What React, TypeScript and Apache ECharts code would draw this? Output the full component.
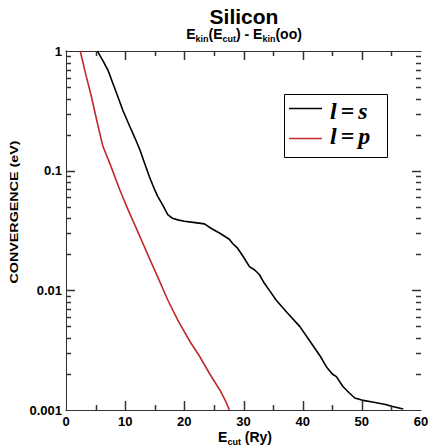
import React, { useEffect, useRef } from "react";
import * as echarts from "echarts";

// Kinetic-energy convergence of silicon pseudo-wavefunctions vs. cutoff energy
const sChannel: [number, number][] = [
  [5.3, 1.0], [5.5, 0.96], [6.3, 0.82], [7.1, 0.69], [7.9, 0.54], [8.8, 0.41],
  [9.6, 0.32], [10.8, 0.233], [11.6, 0.19], [12.5, 0.149], [13.3, 0.115],
  [14.1, 0.089], [15.0, 0.069], [15.5, 0.061], [16.4, 0.051], [17.2, 0.043],
  [18.0, 0.0400], [18.9, 0.0388], [20.0, 0.0378], [21.5, 0.0370], [23.4, 0.0359],
  [24.5, 0.0330], [26.0, 0.0300], [27.6, 0.0267], [28.2, 0.0245], [29.0, 0.0225],
  [30.0, 0.0190], [31.0, 0.0158], [31.9, 0.0148], [32.7, 0.0135], [33.5, 0.0115],
  [34.5, 0.0098], [35.5, 0.0083], [37.5, 0.0064], [39.5, 0.0050], [41.5, 0.0036],
  [43.0, 0.0028], [44.0, 0.0023], [45.0, 0.0020], [45.7, 0.0019], [46.8, 0.00157],
  [47.8, 0.00140], [48.8, 0.00126], [50.0, 0.00121], [52.0, 0.00116],
  [54.0, 0.00111], [55.2, 0.00107], [57.0, 0.00102],
];

const pChannel: [number, number][] = [
  [2.4, 1.0], [3.3, 0.65], [4.3, 0.415], [5.3, 0.25], [6.25, 0.159], [7.4, 0.115],
  [9.1, 0.069], [10.5, 0.047], [12.0, 0.032], [14.1, 0.0185], [15.7, 0.0123],
  [17.2, 0.0083], [19.0, 0.0055], [21.0, 0.0037], [22.6, 0.0028], [24.3, 0.0020],
  [26.0, 0.00147], [27.0, 0.00118], [27.6, 0.00100],
];

const yTickLabels: Record<string, string> = {
  "1": "1",
  "0.1": "0.1",
  "0.01": "0.01",
  "0.001": "0.001",
};

const X_MIN = 0;
const X_MAX = 60;
const Y_MIN = 0.001;
const Y_MAX = 1;

// Tick positions drawn on all four frame edges
const xMajorTicks = [10, 20, 30, 40, 50];
const xMinorTicks = [5, 15, 25, 35, 45, 55];
const yMajorTicks = [0.01, 0.1];
const yMinorTicks: number[] = [];
for (const decade of [0.001, 0.01, 0.1]) {
  for (let k = 2; k <= 9; k++) yMinorTicks.push(+(decade * k).toPrecision(3));
}

const MAJOR_LEN = 9;
const MINOR_LEN = 5;

const SANS = "'Liberation Sans', Arial, Helvetica, sans-serif";
const SERIF = "'Liberation Serif', 'Times New Roman', serif";
const AXIS_COLOR = "#333";
const TICK_COLOR = "#333";
const RED = "#c22a2a";

const crisp = (v: number) => Math.round(v) + 0.5;

export default function App() {
  const ref = useRef<HTMLDivElement>(null);

  useEffect(() => {
    if (!ref.current) return;
    const chart = echarts.init(ref.current, undefined, { renderer: "svg" });

    const xCommon = {
      type: "value" as const,
      min: X_MIN,
      max: X_MAX,
      interval: 10,
      splitLine: { show: false },
      axisLine: { show: true, lineStyle: { color: AXIS_COLOR, width: 1 } },
      axisTick: { show: false },
    };
    const yCommon = {
      type: "log" as const,
      logBase: 10,
      min: Y_MIN,
      max: Y_MAX,
      splitLine: { show: false },
      axisLine: { show: true, lineStyle: { color: AXIS_COLOR, width: 1 } },
      axisTick: { show: false },
    };

    chart.setOption({
      animation: false,
      backgroundColor: "#fff",
      grid: { left: 66, top: 51, right: 11, bottom: 36, containLabel: false },
      xAxis: [
        {
          ...xCommon,
          position: "bottom",
          axisLabel: {
            show: true,
            color: "#000",
            fontFamily: SANS,
            fontWeight: "bold",
            fontSize: 13,
            margin: 5,
          },
        },
        { ...xCommon, position: "top", axisLabel: { show: false } },
      ],
      yAxis: [
        {
          ...yCommon,
          position: "left",
          axisLabel: {
            show: true,
            color: "#000",
            fontFamily: SANS,
            fontWeight: "bold",
            fontSize: 13,
            margin: 4,
            formatter: (v: number) => yTickLabels[String(v)] ?? String(v),
          },
        },
        { ...yCommon, position: "right", axisLabel: { show: false } },
      ],
      series: [
        {
          type: "line",
          name: "l = s",
          data: sChannel,
          showSymbol: false,
          lineStyle: { color: "#000", width: 1.6 },
          clip: true,
        },
        {
          type: "line",
          name: "l = p",
          data: pChannel,
          showSymbol: false,
          lineStyle: { color: RED, width: 1.6 },
          clip: true,
        },
      ],
    });

    // frame ticks, placed through the grid's own scales
    const toPx = (x: number, y: number) =>
      chart.convertToPixel({ xAxisIndex: 0, yAxisIndex: 0 }, [x, y]) as number[];
    const tickStyle = { stroke: TICK_COLOR, lineWidth: 1.5 };
    const ticks: any[] = [];
    const addX = (v: number, len: number) => {
      const pb = toPx(v, Y_MIN);
      const pt = toPx(v, Y_MAX);
      const x = crisp(pb[0]);
      ticks.push({ type: "line", z: 50, silent: true, shape: { x1: x, y1: pb[1], x2: x, y2: pb[1] - len }, style: tickStyle });
      ticks.push({ type: "line", z: 50, silent: true, shape: { x1: x, y1: pt[1], x2: x, y2: pt[1] + len }, style: tickStyle });
    };
    const addY = (v: number, len: number) => {
      const pl = toPx(X_MIN, v);
      const pr = toPx(X_MAX, v);
      const y = crisp(pl[1]);
      ticks.push({ type: "line", z: 50, silent: true, shape: { x1: pl[0], y1: y, x2: pl[0] + len, y2: y }, style: tickStyle });
      ticks.push({ type: "line", z: 50, silent: true, shape: { x1: pr[0], y1: y, x2: pr[0] - len, y2: y }, style: tickStyle });
    };
    xMajorTicks.forEach((v) => addX(v, MAJOR_LEN));
    xMinorTicks.forEach((v) => addX(v, MINOR_LEN));
    yMajorTicks.forEach((v) => addY(v, MAJOR_LEN));
    yMinorTicks.forEach((v) => addY(v, MINOR_LEN));

    const legendRich = {
      i: { font: `italic bold 24px ${SERIF}`, fill: "#000" },
      e: { font: `bold 24px ${SERIF}`, fill: "#000", padding: [0, 4, 0, 4] },
    };

    chart.setOption({
      graphic: [
        ...ticks,
        {
          type: "text",
          x: 244,
          y: 16,
          style: {
            text: "Silicon",
            font: `bold 21px ${SANS}`,
            fill: "#000",
            align: "center",
            verticalAlign: "middle",
          },
        },
        {
          type: "text",
          x: 244,
          y: 34,
          style: {
            text: "{b|E}{s|kin}{b|(E}{s|cut}{b|) - E}{s|kin}{b|(oo)}",
            align: "center",
            verticalAlign: "middle",
            rich: {
              b: { font: `bold 14px ${SANS}`, fill: "#000", lineHeight: 18 },
              s: { font: `bold 9px ${SANS}`, fill: "#000", lineHeight: 11, verticalAlign: "bottom" },
            },
          },
        },
        {
          type: "text",
          x: 245,
          y: 437,
          style: {
            text: "{b|E}{s|cut}{b| (Ry)}",
            align: "center",
            verticalAlign: "middle",
            rich: {
              b: { font: `bold 14px ${SANS}`, fill: "#000", lineHeight: 18 },
              s: { font: `bold 9px ${SANS}`, fill: "#000", lineHeight: 11, verticalAlign: "bottom" },
            },
          },
        },
        {
          type: "text",
          x: 14,
          y: 212,
          rotation: Math.PI / 2,
          scaleX: 1.3,
          style: {
            text: "CONVERGENCE (eV)",
            font: `bold 11px ${SANS}`,
            fill: "#000",
            align: "center",
            verticalAlign: "middle",
          },
        },
        // legend box
        {
          type: "rect",
          shape: { x: 284.5, y: 94.5, width: 103, height: 63 },
          style: { fill: "#fff", stroke: "#000", lineWidth: 1 },
          z: 60,
        },
        {
          type: "line",
          shape: { x1: 289, y1: 108.5, x2: 322, y2: 108.5 },
          style: { stroke: "#000", lineWidth: 1.4 },
          z: 61,
        },
        {
          type: "line",
          shape: { x1: 289, y1: 138.5, x2: 322, y2: 138.5 },
          style: { stroke: RED, lineWidth: 1.4 },
          z: 61,
        },
        {
          type: "text",
          x: 330,
          y: 111,
          z: 61,
          style: {
            text: "{i|l}{e|=}{i|s}",
            align: "left",
            verticalAlign: "middle",
            rich: legendRich,
          },
        },
        {
          type: "text",
          x: 330,
          y: 136,
          z: 61,
          style: {
            text: "{i|l}{e|=}{i|p}",
            align: "left",
            verticalAlign: "middle",
            rich: legendRich,
          },
        },
      ],
    });

    return () => chart.dispose();
  }, []);

  return (
    <div
      ref={ref}
      style={{ position: "fixed", left: 0, top: 0, width: 432, height: 446, background: "#fff" }}
    />
  );
}
